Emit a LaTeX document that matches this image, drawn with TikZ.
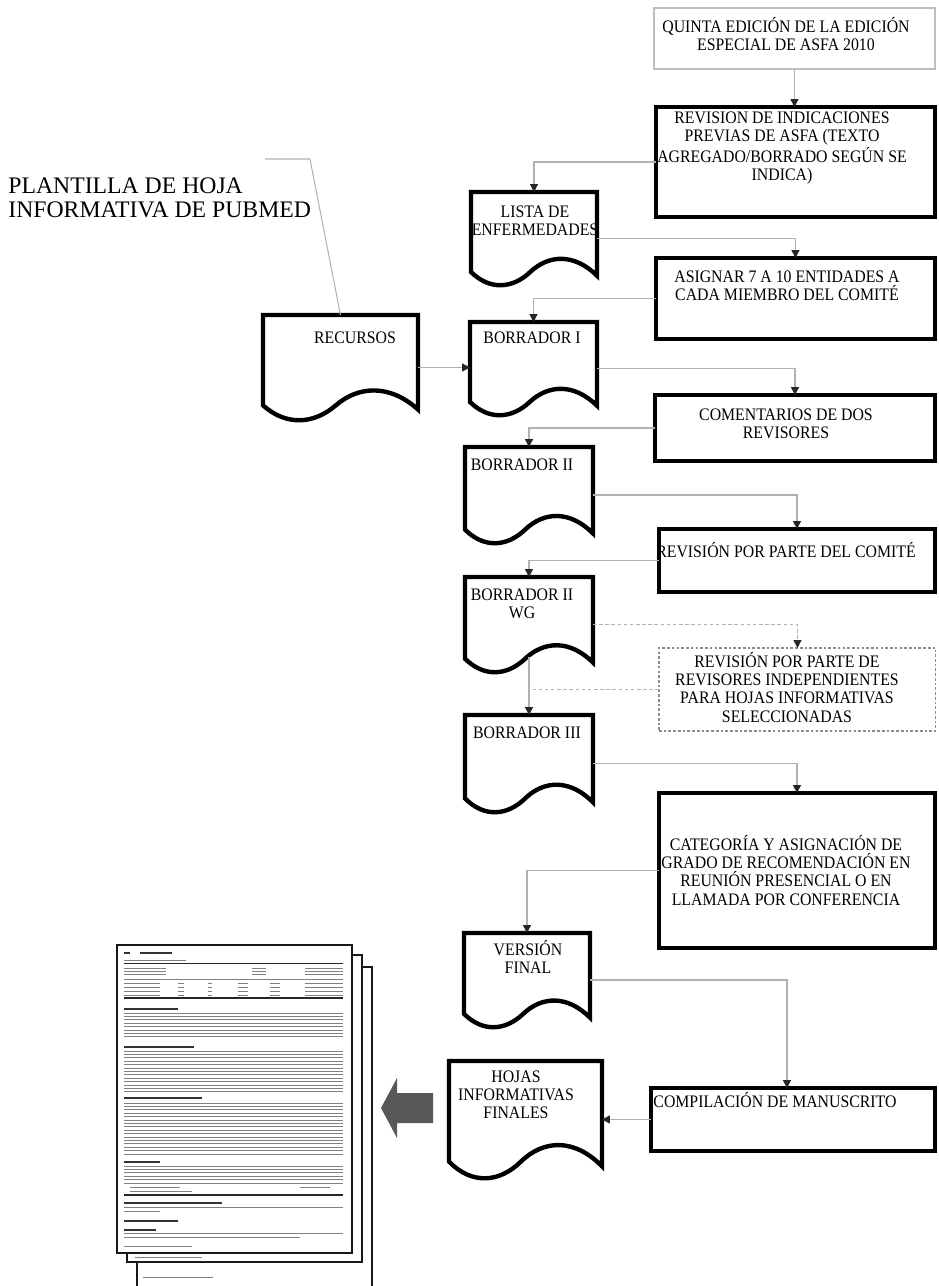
\documentclass[tikz,border=0pt]{standalone}
\usepackage{fontspec}
\setmainfont{Liberation Serif}
\newfontfamily\boxfont{Liberation Serif}[FakeStretch=0.9]
\usetikzlibrary{positioning,calc,arrows.meta}
\definecolor{linegray}{RGB}{178,178,178}
\definecolor{boxgray}{RGB}{190,190,190}
\definecolor{arrowgray}{RGB}{88,88,88}

% centred lines, baseline of the node = first line
\newcommand{\celltext}[1]{\parbox[t]{6cm}{\centering #1}}
% document symbol drawn round an (invisible) node
\newcommand{\drawdoc}[1]{%
  \draw[docline] let \p1=(#1.north west), \p2=(#1.south east), \n1={\x2-\x1}, \n2={\y1-\y2} in
    (\x1,\y1) -- (\x2,\y1) -- (\x2,{\y1-0.9*\n2})
    .. controls ({\x1+0.82*\n1},{\y1-0.66*\n2}) and ({\x1+0.62*\n1},{\y1-0.67*\n2}) .. ({\x1+0.47*\n1},{\y1-0.86*\n2})
    .. controls ({\x1+0.33*\n1},{\y1-1.04*\n2}) and ({\x1+0.15*\n1},{\y1-1.06*\n2}) .. (\x1,{\y1-0.86*\n2})
    -- cycle;}

\tikzset{
  conn/.style={draw=linegray, line width=0.8pt, -{Triangle[width=4.5pt,length=4.5pt,color=black!85]}},
  dashline/.style={draw=linegray, line width=0.8pt, dash pattern=on 2pt off 1.5pt},
  dashconn/.style={dashline, -{Triangle[width=4.5pt,length=4.5pt,color=black!85]}},
  procbox/.style={draw, line width=2.5pt, anchor=north west, inner sep=0pt, outer sep=0pt},
  thinbox/.style={draw=boxgray, line width=0.8pt, anchor=north west, inner sep=0pt, outer sep=0pt},
  dotbox/.style={draw=black!45, line width=0.6pt, dash pattern=on 1.5pt off 1.2pt, anchor=north west, inner sep=0pt, outer sep=0pt},
  docbox/.style={anchor=north west, inner sep=0pt, outer sep=0pt},
  docline/.style={line width=2.5pt, line join=miter},
  boxtext/.style={anchor=base, inner sep=0pt, font=\boxfont\fontsize{10}{10.5}\selectfont},
  pageline/.style={draw=black!90, line width=1.1pt, fill=white},
  fakeline/.style={draw=black!50, line width=0.45pt},
  fakehead/.style={draw=black!80, line width=0.8pt},
  fakerule/.style={draw=black!85, line width=0.9pt},
}

\begin{document}
\begin{tikzpicture}[x=0.02cm,y=-0.02cm]
    \useasboundingbox (0,0) rectangle (938,1286);

    % Process boxes (right column)
    \node[thinbox, minimum width=5.62cm, minimum height=1.22cm] (quinta) at (654,8) {};
    \node[procbox, minimum width=5.58cm, minimum height=2.2cm] (revis) at (656,107) {};
    \node[procbox, minimum width=5.58cm, minimum height=1.62cm] (asign) at (656,258) {};
    \node[procbox, minimum width=5.6cm, minimum height=1.32cm] (coment) at (655,395) {};
    \node[procbox, minimum width=5.52cm, minimum height=1.26cm] (comite) at (659,529) {};
    \node[dotbox, minimum width=5.54cm, minimum height=1.66cm] (indep) at (659,648) {};
    \node[procbox, minimum width=5.52cm, minimum height=3.1cm] (categ) at (659,793) {};
    \node[procbox, minimum width=5.68cm, minimum height=1.26cm] (compil) at (651,1088) {};

    % Documents (left column)
    \node[docbox, minimum width=2.52cm, minimum height=1.86cm] (lista) at (471,192) {};
    \node[docbox, minimum width=3.1cm, minimum height=2.1cm] (recur) at (263,315) {};
    \node[docbox, minimum width=2.54cm, minimum height=1.86cm] (bor1) at (470,322) {};
    \node[docbox, minimum width=2.56cm, minimum height=1.92cm] (bor2) at (465,447) {};
    \node[docbox, minimum width=2.56cm, minimum height=1.9cm] (bor2wg) at (465,577) {};
    \node[docbox, minimum width=2.56cm, minimum height=1.94cm] (bor3) at (465,715) {};
    \node[docbox, minimum width=2.52cm, minimum height=1.88cm] (versf) at (464,933) {};
    \node[docbox, minimum width=3.06cm, minimum height=2.34cm] (hojas) at (449,1061) {};
    \foreach \d in {lista,recur,bor1,bor2,bor2wg,bor3,versf,hojas} {\drawdoc{\d}}

    % Texts
    \node[boxtext] (quinta-t) at ($(quinta.north west)+(132,24)$) {\celltext{QUINTA EDICIÓN DE LA EDICIÓN\\ESPECIAL DE ASFA 2010}};
    \node[boxtext] (revis-t) at ($(revis.north west)+(126,16)$) {\celltext{REVISION DE INDICACIONES\\PREVIAS DE ASFA (TEXTO\\AGREGADO/BORRADO SEGÚN SE\\INDICA)}};
    \node[boxtext] (asign-t) at ($(asign.north west)+(131,24)$) {\celltext{ASIGNAR 7 A 10 ENTIDADES A\\CADA MIEMBRO DEL COMITÉ}};
    \node[boxtext] (coment-t) at ($(coment.north west)+(131,25)$) {\celltext{COMENTARIOS DE DOS\\REVISORES}};
    \node[boxtext] (comite-t) at ($(comite.north west)+(127,28)$) {\celltext{REVISIÓN POR PARTE DEL COMITÉ}};
    \node[boxtext] (indep-t) at ($(indep.north west)+(128,19)$) {\celltext{REVISIÓN POR PARTE DE\\REVISORES INDEPENDIENTES\\PARA HOJAS INFORMATIVAS\\SELECCIONADAS}};
    \node[boxtext] (categ-t) at ($(categ.north west)+(127,57)$) {\celltext{CATEGORÍA Y ASIGNACIÓN DE\\GRADO DE RECOMENDACIÓN EN\\REUNIÓN PRESENCIAL O EN\\LLAMADA POR CONFERENCIA}};
    \node[boxtext] (compil-t) at ($(compil.north west)+(124,19)$) {\celltext{COMPILACIÓN DE MANUSCRITO}};
    \node[boxtext] (lista-t) at ($(lista.north west)+(64,25)$) {\celltext{LISTA DE\\ENFERMEDADES}};
    \node[boxtext] (recur-t) at ($(recur.north west)+(92,28)$) {\celltext{RECURSOS}};
    \node[boxtext] (bor1-t) at ($(bor1.north west)+(62,21)$) {\celltext{BORRADOR I}};
    \node[boxtext] (bor2-t) at ($(bor2.north west)+(57,23)$) {\celltext{BORRADOR II}};
    \node[boxtext] (bor2wg-t) at ($(bor2wg.north west)+(57,23)$) {\celltext{BORRADOR II\\WG}};
    \node[boxtext] (bor3-t) at ($(bor3.north west)+(62,23)$) {\celltext{BORRADOR III}};
    \node[boxtext] (versf-t) at ($(versf.north west)+(64,22)$) {\celltext{VERSIÓN\\FINAL}};
    \node[boxtext] (hojas-t) at ($(hojas.north west)+(67,21)$) {\celltext{HOJAS\\INFORMATIVAS\\FINALES}};
    \node[anchor=base west, inner sep=0pt, font=\fontsize{13.5}{14.2}\selectfont] (plant) at (8,193)
        {\parbox[t]{8cm}{\raggedright PLANTILLA DE HOJA\\INFORMATIVA DE PUBMED}};

    % Connectors
    \draw[conn] (quinta.south) -- (quinta.south |- revis.north);
    \draw[conn] (revis.west) -| (lista.north);
    \draw[conn] (lista.east) -| (asign.north);
    \draw[conn] (asign.west) -| (bor1.north);
    \draw[conn] (recur.east) -- (recur.east -| bor1.west);
    \draw[conn] (bor1.east) -| (coment.north);
    \draw[conn] (coment.west) -| (bor2.north);
    \draw[conn] (bor2.east) -| (comite.north);
    \draw[conn] (comite.west) -| (bor2wg.north);
    \draw[dashconn] (bor2wg.east) -| (indep.north);
    \draw[dashline] (indep.west) -- (indep.west -| bor2wg.south);
    \draw[conn] ([yshift=8.5pt]bor2wg.south) -- (bor3.north);
    \draw[conn] (bor3.east) -| (categ.north);
    \draw[conn] (categ.west) -| (versf.north);
    \draw[conn] (versf.east) -| ([xshift=-0.12cm]compil.north);
    \draw[conn] (compil.west) -- (compil.west -| hojas.east);
    % Callout line
    \coordinate (callout) at (265,159);
    \draw[draw=linegray, line width=0.6pt] (callout) -- ++(45,0) -- (recur.north);

    % Block arrow to the sheets
    \fill[arrowgray] (381,1108) -- (397,1078) -- (397,1093) -- (433,1093) -- (433,1123) -- (397,1123) -- (397,1138) -- cycle;

    % Stack of sheets
    \draw[pageline] (137,967) rectangle (372,1292);
    \draw[pageline] (127,955) rectangle (362,1262);
    \draw[pageline] (117,945) rectangle (352,1253);
    \draw[fakeline] (143,1277) -- (213,1277);
    \draw[fakeline] (135,1257.5) -- (202,1257.5);
    % header and table of the front sheet
    \draw[fakehead] (124,953) -- (130,953) (140,953) -- (172,953);
    \draw[fakeline] (124,960) -- (186,960);
    \draw[fakerule] (124,963.5) -- (343,963.5);
    \foreach \y in {968,971,974} {
        \draw[fakeline] (124,\y) -- (166,\y) (252,\y) -- (266,\y) (305,\y) -- (343,\y);
    }
    \draw[fakeline] (124,979) -- (343,979);
    \foreach \y in {983,987,991,995} {
        \draw[fakeline] (124,\y) -- (160,\y) (178,\y) -- (184,\y) (208,\y) -- (212,\y) (238,\y) -- (248,\y) (270,\y) -- (280,\y) (305,\y) -- (343,\y);
    }
    \draw[fakerule] (124,998) -- (343,998);
    % body of the front sheet
    \draw[fakehead] (124,1009) -- (178,1009);
    \foreach \y in {1013,1016.4,...,1040} {\draw[fakeline] (124,\y) -- (343,\y);}
    \draw[fakehead] (124,1047) -- (194,1047);
    \foreach \y in {1051,1054.4,...,1092} {\draw[fakeline] (124,\y) -- (343,\y);}
    \draw[fakehead] (124,1098) -- (202,1098);
    \foreach \y in {1103,1106.4,...,1154} {\draw[fakeline] (124,\y) -- (343,\y);}
    \draw[fakehead] (124,1162) -- (160,1162);
    \foreach \y in {1166,1169.4,...,1181} {\draw[fakeline] (124,\y) -- (343,\y);}
    \draw[fakeline] (124,1183.5) -- (343,1183.5);
    \draw[fakeline] (130,1187) -- (180,1187) (300,1187) -- (330,1187);
    \draw[fakeline] (130,1191.5) -- (192,1191.5);
    \draw[fakerule] (124,1195) -- (343,1195);
    \draw[fakehead] (124,1203) -- (222,1203);
    \draw[fakeline] (124,1207.5) -- (343,1207.5);
    \draw[fakeline] (124,1211.5) -- (160,1211.5);
    \draw[fakehead] (124,1221) -- (178,1221);
    \draw[fakehead] (124,1230) -- (156,1230);
    \draw[fakeline] (124,1233.5) -- (343,1233.5);
    \draw[fakeline] (124,1237) -- (300,1237);
    \draw[fakeline] (124,1246) -- (192,1246);
\end{tikzpicture}
\end{document}
